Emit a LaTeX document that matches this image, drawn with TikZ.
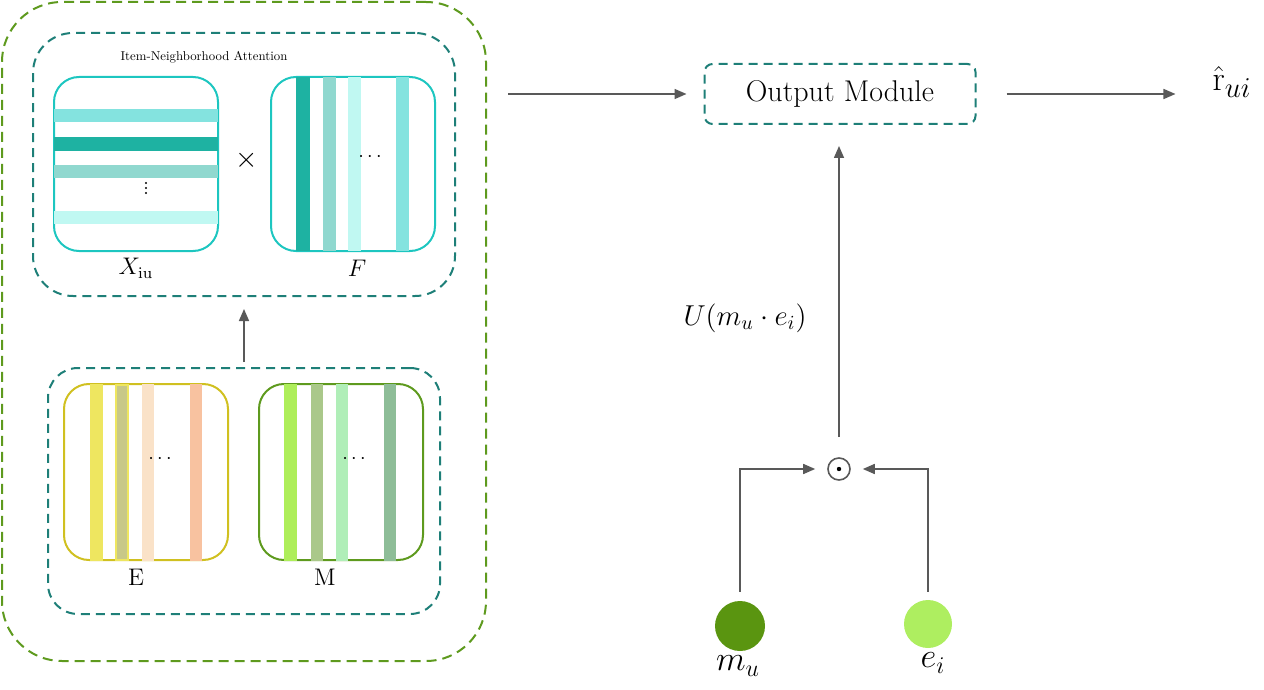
\documentclass[tikz,border=0pt]{standalone}
\usetikzlibrary{arrows.meta}
\definecolor{leafgreen}{HTML}{5E9A1E}
\definecolor{teal}{HTML}{1E7F78}
\definecolor{aqua}{HTML}{1DC6C0}
\definecolor{olivey}{HTML}{D0C020}
\definecolor{arrgray}{HTML}{595959}
\definecolor{tA}{HTML}{84E3DF}
\definecolor{tB}{HTML}{1EB2A2}
\definecolor{tC}{HTML}{90D8CF}
\definecolor{tD}{HTML}{C0F8F2}
\definecolor{eA}{HTML}{EEE660}
\definecolor{eB}{HTML}{C8C888}
\definecolor{eC}{HTML}{FAE2C8}
\definecolor{eD}{HTML}{F8C2A0}
\definecolor{mA}{HTML}{AEEE5A}
\definecolor{mB}{HTML}{AAC88A}
\definecolor{mC}{HTML}{B0EEB8}
\definecolor{mD}{HTML}{8EBD98}
\definecolor{mucol}{HTML}{5A9510}
\definecolor{eicol}{HTML}{AEEE60}
\tikzset{
  dashbox/.style={draw=teal, line width=1pt, dash pattern=on 4.5pt off 3pt, rounded corners=#1},
  matbox/.style={draw=#1, line width=1pt, rounded corners=12.5pt, minimum width=82pt},
  arr/.style={draw=arrgray, line width=0.8pt, -{Triangle[length=6pt,width=5pt]}},
  vec/.style={circle, inner sep=0pt, minimum size=#1}
}
\begin{document}
\begin{tikzpicture}[x=0.5pt,y=-0.5pt]
  \useasboundingbox (0,0) rectangle (1264,690);
  \node[draw=leafgreen, line width=1pt, dash pattern=on 5pt off 3pt, rounded corners=30pt,
        minimum width=242pt, minimum height=329.5pt] (outer) at (244,331.5) {};
  \node[dashbox=20pt, minimum width=211pt, minimum height=131.5pt] (att) at (244,164.5) {};
  \node[dashbox=15pt, minimum width=196pt, minimum height=123pt] (emb) at (244,491) {};
  \node[font=\fontsize{10}{12}\selectfont, scale=0.64] (atttitle) at (204,57) {Item-Neighborhood Attention};
  % attention matrices
  \node[matbox=aqua, minimum height=87pt] (xiu) at (136,164) {};
  \node[matbox=aqua, minimum height=87pt] (fmat) at (353,164) {};
  \foreach \a/\b/\c in {109/122/tA,137/151/tB,165/178/tC,211/224/tD}
    \fill[\c] (54,\a) rectangle (218,\b);
  \foreach \a/\b/\c in {296/310/tB,323/336/tC,348/361/tD,396/409/tA}
    \fill[\c] (\a,77) rectangle (\b,251);
  \foreach \y in {183,188,193}
    \fill (146,\y) circle (0.6pt);
  \node[font=\fontsize{10}{12}\selectfont] (fd) at (370,157) {$\cdots$};
  \node[font=\fontsize{14}{16}\selectfont] (times) at (247,160) {$\times$};
  \node[font=\fontsize{12}{14}\selectfont] (xlab) at (136,268) {$X_{\mathrm{iu}}$};
  \node[font=\fontsize{12}{14}\selectfont] (flab) at (357,268) {$F$};
  % embedding matrices
  \node[matbox=olivey, minimum height=88pt] (emat) at (146,472) {};
  \node[matbox=leafgreen, minimum height=88pt] (mmat) at (341,472) {};
  \foreach \a/\b/\c in {90/103/eA,116/128/eB,142/154/eC,190/202/eD}
    \fill[\c] (\a,384) rectangle (\b,561);
  \draw[eA, line width=0.6pt] (116,385) rectangle (128,560);
  \foreach \a/\b/\c in {284/297/mA,311/323/mB,336/348/mC,384/396/mD}
    \fill[\c] (\a,384) rectangle (\b,561);
  \node[font=\fontsize{10}{12}\selectfont] (ed) at (160,459) {$\cdots$};
  \node[font=\fontsize{10}{12}\selectfont] (md) at (354,459) {$\cdots$};
  \node[font=\fontsize{12}{14}\selectfont] (elab) at (136,577) {E};
  \node[font=\fontsize{12}{14}\selectfont] (mlab) at (325,577) {M};
  \draw[arr] ([yshift=2.5pt]emb.north) -- ([yshift=-6pt]att.south);
  % output side
  \node[dashbox=4pt, minimum width=135.5pt, minimum height=30pt,
        font=\fontsize{15}{18}\selectfont] (out) at (840,94) {Output Module};
  \node[font=\fontsize{19}{22}\selectfont] (rhat) at (1232,82) {$\hat{\mathrm{r}}_{ui}$};
  \draw[arr] ([xshift=10.5pt]outer.east |- out.west) -- ([xshift=-8.5pt]out.west);
  \draw[arr] ([xshift=15pt]out.east) -- ([xshift=-15pt]out.east -| rhat.west);
  \node[circle, draw=arrgray, line width=0.8pt, minimum size=11pt, inner sep=0pt] (dot) at (839,469) {};
  \fill (dot) circle (1.1pt);
  \draw[arr] ([yshift=10pt]dot.north) -- ([yshift=-10.5pt]dot.north |- out.south);
  \node[font=\fontsize{14}{17}\selectfont] (ulab) at (745,318) {$U(m_u\cdot e_i)$};
  \node[vec=25pt, fill=mucol] (mu) at (740,626) {};
  \node[vec=24pt, fill=eicol] (ei) at (928,624) {};
  \node[font=\fontsize{17}{20}\selectfont] (mulab) at (738,666) {$m_u$};
  \node[font=\fontsize{17}{20}\selectfont] (eilab) at (933,663) {$e_i$};
  \draw[arr] ([yshift=4.5pt]mu.north) |- ([xshift=-6pt]dot.west);
  \draw[arr] ([yshift=4pt]ei.north) |- ([xshift=6pt]dot.east);
\end{tikzpicture}
\end{document}
